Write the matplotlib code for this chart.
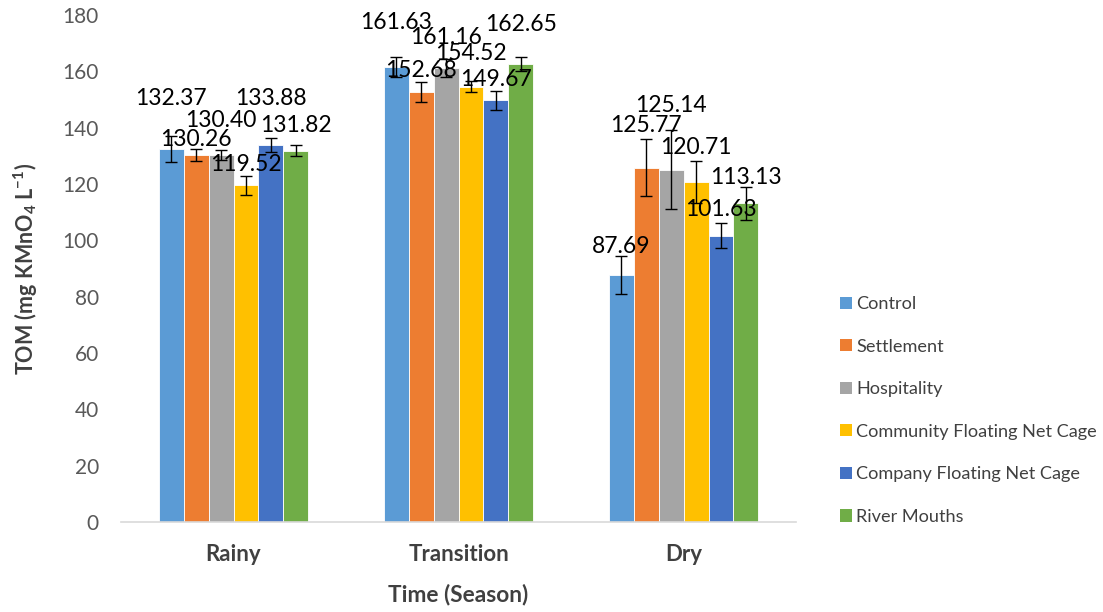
import numpy as np
import matplotlib.pyplot as plt
from matplotlib.patches import Patch

# seasons on the x axis
seasons = ["Rainy", "Transition", "Dry"]

# one list per site, values in season order
sites = ["Control", "Settlement", "Hospitality",
         "Community Floating Net Cage", "Company Floating Net Cage", "River Mouths"]
control = [132.37, 161.63, 87.69]
settlement = [130.26, 152.68, 125.77]
hospitality = [130.40, 161.16, 125.14]
community_cage = [119.52, 154.52, 120.71]
company_cage = [133.88, 149.67, 101.63]
river_mouths = [131.82, 162.65, 113.13]

# error bar half-widths
control_err = [4.7, 3.6, 6.7]
settlement_err = [2.1, 3.4, 10.2]
hospitality_err = [1.7, 3.2, 14.0]
community_cage_err = [3.5, 2.0, 7.3]
company_cage_err = [2.6, 3.4, 4.4]
river_mouths_err = [1.9, 2.5, 5.8]

values = [control, settlement, hospitality, community_cage, company_cage, river_mouths]
errors = [control_err, settlement_err, hospitality_err, community_cage_err,
          company_cage_err, river_mouths_err]

# Excel office palette
colors = ["#5B9BD5", "#ED7D31", "#A5A5A5", "#FFC000", "#4472C4", "#70AD47"]

# how far above the bar top each data label sits (the labels were dragged around)
label_lift = [
    [18.0, 15.6, 10.3],
    [5.7, 7.6, 14.9],
    [12.0, 11.0, 22.9],
    [7.5, 11.7, 12.3],
    [16.5, 7.6, 9.4],
    [8.9, 13.9, 9.2],
]

plt.rcParams['font.family'] = ['Lato', 'DejaVu Sans']

fig = plt.figure(figsize=(11.03, 6.12), dpi=100)
ax = fig.add_axes([0.1097, 0.147, 0.612, 0.8285])

x = np.arange(len(seasons))
bar_w = 0.111
offsets = (np.arange(len(sites)) - (len(sites) - 1) / 2) * bar_w

for i, site in enumerate(sites):
    xs = x + offsets[i]
    ax.bar(xs, values[i], width=bar_w, color=colors[i], edgecolor='white',
           linewidth=0.6, label=site, zorder=2)
    ax.errorbar(xs, values[i], yerr=errors[i], fmt='none', ecolor='black',
                elinewidth=1.0, capsize=4, capthick=1.0, zorder=3)
    for j in range(len(seasons)):
        ax.text(xs[j], values[i][j] + label_lift[i][j], f"{values[i][j]:.2f}",
                ha='center', va='center', fontsize=16.5, color='black', zorder=4)

ax.set_xlim(-0.5, 2.5)
ax.set_ylim(0, 180)
ax.set_yticks(np.arange(0, 181, 20))
ax.set_xticks(x)
ax.set_xticklabels(seasons, fontsize=16, fontweight='bold', color='#404040')
ax.tick_params(axis='y', labelsize=15, labelcolor='#595959', length=0, pad=16)
ax.tick_params(axis='x', length=0, pad=16)

for side in ['top', 'right', 'left']:
    ax.spines[side].set_visible(False)
ax.spines['bottom'].set_color('#D9D9D9')
ax.spines['bottom'].set_linewidth(1.2)

ax.set_xlabel("Time (Season)", fontsize=16.3, fontweight='bold', color='#404040', labelpad=13)
ax.set_ylabel(r"TOM (mg KMnO$_\mathregular{4}$ L$^\mathregular{-1}$)", fontsize=15.5,
              fontweight='bold', color='#404040', labelpad=16)

handles = [Patch(facecolor=c, edgecolor='none') for c in colors]
fig.legend(handles, sites, loc='upper left', bbox_to_anchor=(0.7465, 0.543),
           frameon=False, fontsize=13.1, labelcolor='#404040',
           handlelength=0.66, handleheight=0.66, handletextpad=0.25, labelspacing=1.46)

plt.savefig("out.png", dpi=100)
